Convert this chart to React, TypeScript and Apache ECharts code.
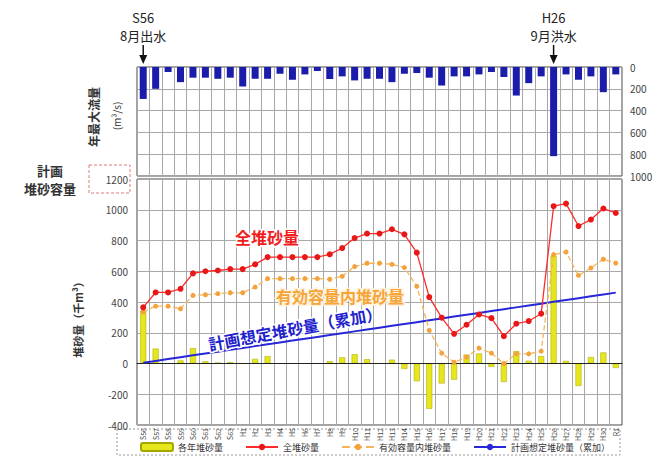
import React, { useEffect, useRef } from "react";
import * as echarts from "echarts";

const years = [
  "S56", "S57", "S58", "S59", "S60", "S61", "S62", "S63",
  "H1", "H2", "H3", "H4", "H5", "H6", "H7", "H8", "H9", "H10",
  "H11", "H12", "H13", "H14", "H15", "H16", "H17", "H18", "H19", "H20",
  "H21", "H22", "H23", "H24", "H25", "H26", "H27", "H28", "H29", "H30", "R1",
];

// 年最大流量 (m3/s)
const maxFlow = [
  293, 200, 46, 139, 98, 98, 108, 98, 179, 108,
  108, 62, 117, 68, 37, 110, 86, 123, 108, 108,
  139, 62, 55, 98, 170, 86, 86, 68, 46, 92,
  262, 148, 86, 818, 68, 117, 86, 231, 68,
];

// 各年堆砂量 (千m3)
const annualDeposit = [
  345, 97, 0, 20, 100, 14, 6, 9, 0, 30,
  48, 0, 0, 0, 0, 15, 40, 60, 28, 0,
  25, -35, -115, -295, -130, -105, 58, 65, -22, -120,
  80, 18, 48, 700, 17, -146, 42, 72, -29,
];

// 全堆砂量
const totalDeposit = [
  365, 462, 462, 486, 586, 600, 605, 614, 614, 645,
  692, 692, 692, 692, 692, 710, 751, 816, 845, 845,
  873, 840, 721, 432, 298, 193, 252, 319, 295, 178,
  259, 276, 324, 1023, 1040, 894, 936, 1008, 979,
];

// 有効容量内堆砂量
const effectiveDeposit = [
  335, 373, 373, 356, 443, 447, 454, 460, 460, 497,
  552, 552, 552, 552, 552, 548, 567, 630, 652, 652,
  645, 624, 502, 215, 67, 8, 41, 100, 67, 0,
  63, 63, 80, 708, 725, 573, 621, 678, 653,
];

// 計画想定堆砂量（累加）
const plannedDeposit = [
  5, 17, 29, 41, 53, 65, 77, 89, 101, 113,
  125, 137, 149, 161, 173, 185, 197, 209, 221, 233,
  245, 257, 269, 281, 293, 305, 317, 329, 341, 353,
  365, 377, 389, 401, 413, 425, 437, 449, 461,
];

const events = [
  { year: "S56", line1: "S56", line2: "8月出水" },
  { year: "H26", line1: "H26", line2: "9月洪水" },
];

const FONT = "'Noto Sans CJK JP', 'Noto Sans', sans-serif";
const GRID_LINE = "#a8a8a8";

export default function App() {
  const ref = useRef<HTMLDivElement>(null);

  useEffect(() => {
    if (!ref.current) return;
    const chart = echarts.init(ref.current, undefined, { renderer: "svg" });

    const plain = (v: number) => String(v);

    const option: any = {
      animation: false,
      backgroundColor: "#ffffff",
      textStyle: { fontFamily: FONT },
      grid: [
        { left: 137, right: 37, top: 67, height: 109, show: true, borderColor: "#444", borderWidth: 1, backgroundColor: "#fff" },
        { left: 137, right: 37, top: 179, height: 246, show: true, borderColor: "#444", borderWidth: 1, backgroundColor: "#fff" },
      ],
      legend: {
        left: 135,
        top: 437,
        itemWidth: 32,
        itemHeight: 8,
        itemGap: 22,
        textStyle: { fontSize: 9, color: "#333", fontFamily: FONT },
        data: ["各年堆砂量", "全堆砂量", "有効容量内堆砂量", "計画想定堆砂量（累加）"],
      },
      xAxis: [
        {
          type: "category",
          gridIndex: 0,
          data: years,
          axisLabel: { show: false },
          axisTick: { show: false },
          axisLine: { show: false },
          splitLine: { show: true, interval: 0, lineStyle: { color: GRID_LINE, width: 1 } },
        },
        {
          type: "category",
          gridIndex: 1,
          data: years,
          z: 3,
          axisLine: { onZero: true, lineStyle: { color: "#222", width: 1 } },
          axisTick: { show: false },
          axisLabel: { interval: 0, rotate: 90, fontSize: 7, margin: 3, color: "#444" },
          splitLine: { show: true, interval: 0, lineStyle: { color: GRID_LINE, width: 1 } },
        },
      ],
      yAxis: [
        {
          type: "value",
          gridIndex: 0,
          position: "right",
          inverse: true,
          min: 0,
          max: 1000,
          interval: 200,
          axisLine: { show: false },
          axisTick: { show: false },
          axisLabel: { fontSize: 10, color: "#444", margin: 8, formatter: plain },
          splitLine: { lineStyle: { color: GRID_LINE, width: 1 } },
        },
        {
          type: "value",
          gridIndex: 1,
          min: -400,
          max: 1200,
          interval: 200,
          axisLine: { show: false },
          axisTick: { show: false },
          axisLabel: { fontSize: 10, color: "#444", margin: 9, formatter: plain },
          splitLine: { lineStyle: { color: GRID_LINE, width: 1 } },
        },
      ],
      series: [
        {
          name: "年最大流量",
          type: "bar",
          xAxisIndex: 0,
          yAxisIndex: 0,
          data: maxFlow,
          barWidth: 7,
          itemStyle: { color: "#1c1cab" },
          z: 2,
        },
        {
          name: "各年堆砂量",
          type: "bar",
          xAxisIndex: 1,
          yAxisIndex: 1,
          data: annualDeposit,
          barWidth: 6,
          itemStyle: { color: "#e6e61c", borderColor: "#a6a600", borderWidth: 0.5 },
          z: 2,
        },
        {
          name: "計画想定堆砂量（累加）",
          type: "line",
          xAxisIndex: 1,
          yAxisIndex: 1,
          data: plannedDeposit,
          symbol: "none",
          itemStyle: { color: "#2727d8" },
          lineStyle: { color: "#2727d8", width: 2 },
          z: 4,
        },
        {
          name: "有効容量内堆砂量",
          type: "line",
          xAxisIndex: 1,
          yAxisIndex: 1,
          data: effectiveDeposit,
          symbol: "circle",
          symbolSize: 5,
          itemStyle: { color: "#f3a23c" },
          lineStyle: { color: "#f7b45c", width: 1.3, type: "dashed" },
          z: 5,
        },
        {
          name: "全堆砂量",
          type: "line",
          xAxisIndex: 1,
          yAxisIndex: 1,
          data: totalDeposit,
          symbol: "circle",
          symbolSize: 6,
          itemStyle: { color: "#e81818" },
          lineStyle: { color: "#ff2a2a", width: 1.3 },
          z: 6,
        },
      ],
    };

    chart.setOption(option);

    const graphics: any[] = [
      // legend frame
      {
        type: "rect",
        shape: { x: 117, y: 429, width: 503, height: 26 },
        style: { fill: "none", stroke: "#9a9a9a", lineWidth: 1, lineDash: [2, 2] },
        z: 0,
      },
      // planned capacity label box
      {
        type: "rect",
        shape: { x: 89, y: 165, width: 41, height: 28 },
        style: { fill: "none", stroke: "#e07a7a", lineWidth: 1, lineDash: [3, 2] },
      },
      {
        type: "text",
        x: 50,
        y: 170,
        style: { text: "計画", font: `bold 13px ${FONT}`, fill: "#333", align: "center", verticalAlign: "middle" },
      },
      {
        type: "text",
        x: 50,
        y: 188,
        style: { text: "堆砂容量", font: `bold 13px ${FONT}`, fill: "#333", align: "center", verticalAlign: "middle" },
      },
      // axis titles
      {
        type: "text",
        x: 93,
        y: 117,
        rotation: Math.PI / 2,
        style: { text: "年最大流量", font: `bold 12px ${FONT}`, fill: "#333", align: "center", verticalAlign: "middle" },
      },
      {
        type: "text",
        x: 116,
        y: 116,
        rotation: Math.PI / 2,
        style: { text: "(m³/s)", font: `10px ${FONT}`, fill: "#333", align: "center", verticalAlign: "middle" },
      },
      {
        type: "text",
        x: 78,
        y: 317,
        rotation: Math.PI / 2,
        style: { text: "堆砂量（千m³）", font: `bold 11px ${FONT}`, fill: "#333", align: "center", verticalAlign: "middle" },
      },
      // series labels
      {
        type: "text",
        x: 267,
        y: 237,
        z: 10,
        style: {
          text: "全堆砂量",
          font: `bold 16px ${FONT}`,
          fill: "#f02020",
          stroke: "#ffffff",
          lineWidth: 3,
          align: "center",
          verticalAlign: "middle",
        },
      },
      {
        type: "text",
        x: 340,
        y: 296,
        z: 10,
        style: {
          text: "有効容量内堆砂量",
          font: `bold 16px ${FONT}`,
          fill: "#f5a53a",
          stroke: "#fff3dd",
          lineWidth: 3,
          align: "center",
          verticalAlign: "middle",
        },
      },
      {
        type: "text",
        x: 295,
        y: 328,
        rotation: 0.18,
        z: 10,
        style: {
          text: "計画想定堆砂量（累加）",
          font: `bold 16px ${FONT}`,
          fill: "#2222cc",
          stroke: "#ffffff",
          lineWidth: 3,
          align: "center",
          verticalAlign: "middle",
        },
      },
    ];

    events.forEach((ev) => {
      const p = chart.convertToPixel({ xAxisIndex: 0, yAxisIndex: 0 } as any, [ev.year, 0]) as number[];
      const x = p[0];
      graphics.push(
        {
          type: "text",
          x,
          y: 17,
          style: { text: ev.line1, font: `13px ${FONT}`, fill: "#222", align: "center", verticalAlign: "middle" },
        },
        {
          type: "text",
          x,
          y: 35,
          style: { text: ev.line2, font: `13px ${FONT}`, fill: "#222", align: "center", verticalAlign: "middle" },
        },
        {
          type: "line",
          shape: { x1: x, y1: 45, x2: x, y2: 57 },
          style: { stroke: "#111", lineWidth: 1.5 },
        },
        {
          type: "polygon",
          shape: { points: [[x - 4, 55], [x + 4, 55], [x, 64]] },
          style: { fill: "#111" },
        }
      );
    });

    chart.setOption({ graphic: graphics });

    return () => {
      chart.dispose();
    };
  }, []);

  return (
    <div
      ref={ref}
      style={{ position: "absolute", left: 0, top: 0, width: 659, height: 457 }}
    />
  );
}
